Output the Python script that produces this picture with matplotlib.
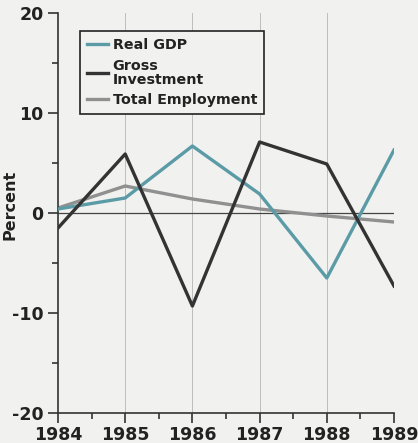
import matplotlib
matplotlib.use('Agg')
import matplotlib.pyplot as plt
from matplotlib.ticker import MultipleLocator

plt.rcParams['axes.unicode_minus'] = False

# values (percent change)
years = [1984, 1985, 1986, 1987, 1988, 1989]
real_gdp = [0.4, 1.5, 6.7, 1.9, -6.5, 6.3]
gross_investment = [-1.5, 5.9, -9.3, 7.1, 4.9, -7.3]
total_employment = [0.5, 2.7, 1.4, 0.4, -0.3, -0.9]

bg = '#f1f1f0'
fig = plt.figure(figsize=(4.18, 4.43), dpi=100, facecolor=bg)
ax = fig.add_axes([58/418, 1 - 413/443, 336/418, 400/443], facecolor=bg)

# year gridlines and zero line
for yr in years[1:]:
    ax.axvline(yr, color='#bdbdbd', lw=0.7, zorder=1)
ax.axhline(0, color='#444444', lw=0.9, zorder=1)

ax.plot(years, real_gdp, color='#5b9ba6', lw=2.4, label='Real GDP', zorder=3)
ax.plot(years, gross_investment, color='#333333', lw=2.4, label='Gross\nInvestment', zorder=3)
ax.plot(years, total_employment, color='#909090', lw=2.4, label='Total Employment', zorder=2)

ax.set_xlim(1984, 1989)
ax.set_ylim(-20, 20)
ax.yaxis.set_major_locator(MultipleLocator(10))
ax.yaxis.set_minor_locator(MultipleLocator(5))
ax.xaxis.set_major_locator(MultipleLocator(1))
ax.xaxis.set_minor_locator(MultipleLocator(0.5))

for s in ['top', 'right']:
    ax.spines[s].set_visible(False)
for s in ['left', 'bottom']:
    ax.spines[s].set_color('#333333')
    ax.spines[s].set_linewidth(1.2)

ax.tick_params(axis='both', which='major', length=7, width=1.2, color='#333333',
               labelsize=12.5, labelcolor='#222222')
ax.tick_params(axis='both', which='minor', length=4, width=1.2, color='#333333')
ax.tick_params(axis='x', pad=2)
for lab in ax.get_xticklabels() + ax.get_yticklabels():
    lab.set_fontweight('bold')

ax.set_ylabel('Percent', fontsize=11.5, fontweight='bold', color='#222222')
ax.yaxis.set_label_coords(-0.122, 0.52)

leg = ax.legend(loc='upper left', bbox_to_anchor=(0.065, 0.955), frameon=True, fancybox=False,
                prop={'weight': 'bold', 'size': 10.3}, handlelength=1.5, handletextpad=0.3,
                labelspacing=0.45, borderpad=0.5, borderaxespad=0)
leg.get_frame().set_edgecolor('#222222')
leg.get_frame().set_linewidth(1.2)
leg.get_frame().set_facecolor(bg)
leg.get_frame().set_alpha(1)
for t in leg.get_texts():
    t.set_color('#222222')
    t.set_linespacing(1.0)

plt.savefig('out.png', dpi=100, facecolor=bg)
